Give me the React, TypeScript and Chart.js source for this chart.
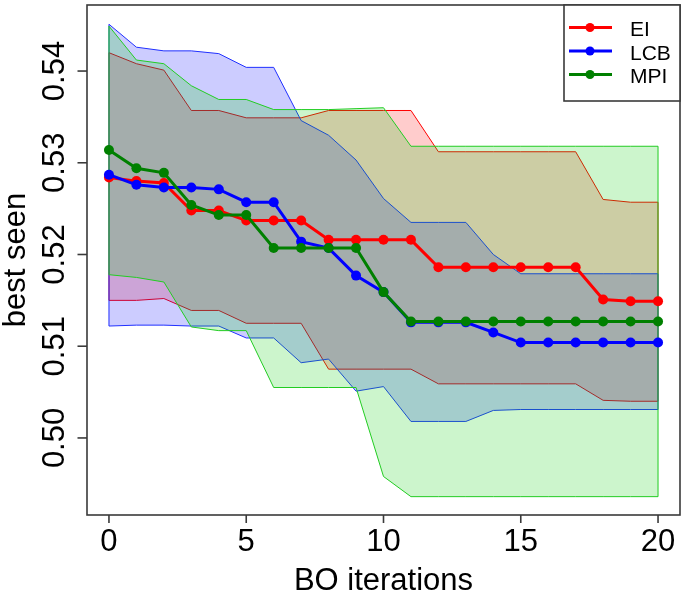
import React, { useEffect, useRef } from "react";
import { Chart, registerables } from "chart.js";

Chart.register(...registerables);

// ---- data ----
const iterations = [0, 1, 2, 3, 4, 5, 6, 7, 8, 9, 10, 11, 12, 13, 14, 15, 16, 17, 18, 19, 20];
const seriesNames = ["EI", "LCB", "MPI"];

const eiMean = [0.5284, 0.528, 0.5278, 0.5248, 0.5248, 0.5237, 0.5237, 0.5237, 0.5216, 0.5216, 0.5216, 0.5216, 0.5186, 0.5186, 0.5186, 0.5186, 0.5186, 0.5186, 0.5151, 0.5149, 0.5149];
const lcbMean = [0.5287, 0.5276, 0.5273, 0.5273, 0.5271, 0.5257, 0.5257, 0.5214, 0.5207, 0.5177, 0.5159, 0.5126, 0.5126, 0.5126, 0.5115, 0.5104, 0.5104, 0.5104, 0.5104, 0.5104, 0.5104];
const mpiMean = [0.5314, 0.5294, 0.5289, 0.5254, 0.5243, 0.5243, 0.5207, 0.5207, 0.5207, 0.5207, 0.5159, 0.5127, 0.5127, 0.5127, 0.5127, 0.5127, 0.5127, 0.5127, 0.5127, 0.5127, 0.5127];

const eiUpper = [0.542, 0.5408, 0.5401, 0.5357, 0.5357, 0.5349, 0.5349, 0.5349, 0.5357, 0.5357, 0.5357, 0.5357, 0.5312, 0.5312, 0.5312, 0.5312, 0.5312, 0.5312, 0.526, 0.5257, 0.5257];
const eiLower = [0.515, 0.515, 0.5152, 0.5139, 0.5139, 0.5125, 0.5125, 0.5125, 0.5075, 0.5075, 0.5075, 0.5075, 0.5059, 0.5059, 0.5059, 0.5059, 0.5059, 0.5059, 0.5041, 0.504, 0.504];
const lcbUpper = [0.5451, 0.5426, 0.5422, 0.5422, 0.5419, 0.5404, 0.5404, 0.5346, 0.533, 0.5303, 0.5261, 0.5235, 0.5235, 0.5235, 0.52, 0.5179, 0.5179, 0.5179, 0.5179, 0.5179, 0.5179];
const lcbLower = [0.5122, 0.5123, 0.5123, 0.5122, 0.5122, 0.5109, 0.5109, 0.5082, 0.5086, 0.5051, 0.5056, 0.5018, 0.5018, 0.5018, 0.503, 0.5031, 0.5031, 0.5031, 0.5031, 0.5031, 0.5031];
const mpiUpper = [0.5449, 0.5412, 0.5408, 0.5384, 0.5369, 0.5369, 0.5358, 0.5358, 0.5358, 0.5359, 0.536, 0.5318, 0.5318, 0.5318, 0.5318, 0.5318, 0.5318, 0.5318, 0.5318, 0.5318, 0.5318];
const mpiLower = [0.5178, 0.5175, 0.517, 0.5121, 0.5117, 0.5117, 0.5055, 0.5055, 0.5055, 0.5055, 0.4958, 0.4936, 0.4936, 0.4936, 0.4936, 0.4936, 0.4936, 0.4936, 0.4936, 0.4936, 0.4936];

const xTicks = [0, 5, 10, 15, 20];
const xTickLabels = ["0", "5", "10", "15", "20"];
const yTicks = [0.5, 0.51, 0.52, 0.53, 0.54];
const yTickLabels = ["0.50", "0.51", "0.52", "0.53", "0.54"];
const xTitle = "BO iterations";
const yTitle = "best seen";

// ---- styles ----
const lineColors = ["#ff0000", "#0000ff", "#008000"];
const bandBorders = ["#ff0000", "#2030ff", "#22cc22"];
const bandFills = ["rgba(255,0,0,0.2)", "rgba(0,0,255,0.2)", "rgba(0,205,0,0.2)"];
const FONT = '"Liberation Sans", Arial, Helvetica, sans-serif';

const pts = (ys: number[]) => iterations.map((x, i) => ({ x, y: ys[i] }));

function buildDatasets() {
  const bands = [
    [eiLower, eiUpper],
    [lcbLower, lcbUpper],
    [mpiLower, mpiUpper],
  ];
  const means = [eiMean, lcbMean, mpiMean];
  const ds: any[] = [];
  bands.forEach(([lo, hi], k) => {
    const order = 30 - k * 10;
    const loIndex = ds.length;
    ds.push({
      label: seriesNames[k] + " lower",
      data: pts(lo),
      borderColor: bandBorders[k],
      borderWidth: 1,
      pointRadius: 0,
      fill: false,
      tension: 0,
      order,
    });
    ds.push({
      label: seriesNames[k] + " upper",
      data: pts(hi),
      borderColor: bandBorders[k],
      backgroundColor: bandFills[k],
      borderWidth: 1,
      pointRadius: 0,
      fill: loIndex,
      tension: 0,
      order,
    });
    const first = 0;
    const last = iterations.length - 1;
    [first, last].forEach((i) => {
      ds.push({
        label: seriesNames[k] + " edge",
        data: [
          { x: iterations[i], y: lo[i] },
          { x: iterations[i], y: hi[i] },
        ],
        borderColor: bandBorders[k],
        borderWidth: 1,
        pointRadius: 0,
        fill: false,
        order,
      });
    });
  });
  means.forEach((m, k) => {
    ds.push({
      label: seriesNames[k],
      data: pts(m),
      borderColor: lineColors[k],
      backgroundColor: lineColors[k],
      pointBackgroundColor: lineColors[k],
      pointBorderColor: lineColors[k],
      borderWidth: 3,
      pointRadius: 5,
      pointBorderWidth: 0,
      fill: false,
      tension: 0,
      order: 3 - k,
    });
  });
  return ds;
}

const axesPlugin = {
  id: "rAxes",
  afterDraw(chart: any) {
    const { ctx, chartArea } = chart;
    const xs = chart.scales.x;
    const ys = chart.scales.y;
    const { left, right, top, bottom } = chartArea;
    ctx.save();
    // box
    ctx.strokeStyle = "#3a3a3a";
    ctx.lineWidth = 1.6;
    ctx.strokeRect(left, top, right - left, bottom - top);

    ctx.fillStyle = "#000";
    ctx.font = "31px " + FONT;
    // x ticks
    ctx.textAlign = "center";
    ctx.textBaseline = "alphabetic";
    xTicks.forEach((v, i) => {
      const px = xs.getPixelForValue(v);
      ctx.beginPath();
      ctx.moveTo(px, bottom);
      ctx.lineTo(px, bottom + 8);
      ctx.stroke();
      ctx.fillText(xTickLabels[i], px, 551);
    });
    ctx.fillText(xTitle, (left + right) / 2, 590);
    // y ticks
    yTicks.forEach((v, i) => {
      const py = ys.getPixelForValue(v);
      ctx.beginPath();
      ctx.moveTo(left, py);
      ctx.lineTo(left - 9.5, py);
      ctx.stroke();
      ctx.save();
      ctx.translate(63.5, py);
      ctx.rotate(-Math.PI / 2);
      ctx.textAlign = "center";
      ctx.fillText(yTickLabels[i], 0, 0);
      ctx.restore();
    });
    ctx.save();
    ctx.translate(25, (top + bottom) / 2);
    ctx.rotate(-Math.PI / 2);
    ctx.textAlign = "center";
    ctx.fillText(yTitle, 0, 0);
    ctx.restore();

    // legend
    const lx0 = 564;
    const ly1 = 101;
    ctx.fillStyle = "#fff";
    ctx.fillRect(lx0, top, right - lx0, ly1 - top);
    ctx.strokeStyle = "#3a3a3a";
    ctx.lineWidth = 1.6;
    ctx.strokeRect(lx0, top, right - lx0, ly1 - top);
    ctx.font = "21px " + FONT;
    ctx.textAlign = "left";
    ctx.textBaseline = "alphabetic";
    seriesNames.forEach((name, k) => {
      const base = 36 + k * 23.5;
      const cy = base - 8.5;
      ctx.strokeStyle = lineColors[k];
      ctx.lineWidth = 3;
      ctx.beginPath();
      ctx.moveTo(569, cy);
      ctx.lineTo(612, cy);
      ctx.stroke();
      ctx.fillStyle = lineColors[k];
      ctx.beginPath();
      ctx.arc(590, cy, 4.5, 0, Math.PI * 2);
      ctx.fill();
      ctx.fillStyle = "#000";
      ctx.fillText(name, 630, base);
    });
    ctx.restore();
  },
};

export default function App() {
  const ref = useRef<HTMLCanvasElement | null>(null);
  useEffect(() => {
    if (!ref.current) return;
    const chart = new Chart(ref.current, {
      type: "line",
      data: { datasets: buildDatasets() },
      options: {
        responsive: false,
        animation: false,
        devicePixelRatio: 1,
        layout: { padding: { left: 87, right: 3, top: 2.5, bottom: 77 } },
        scales: {
          x: { type: "linear", min: -0.8, max: 20.8, display: false },
          y: { type: "linear", min: 0.4916, max: 0.5472, display: false },
        },
        plugins: {
          legend: { display: false },
          tooltip: { enabled: false },
        },
      },
      plugins: [axesPlugin],
    } as any);
    return () => chart.destroy();
  }, []);
  return (
    <div style={{ position: "absolute", left: 0, top: 0, width: 685, height: 592, background: "#fff" }}>
      <canvas ref={ref} width={685} height={592} style={{ display: "block" }} />
    </div>
  );
}
